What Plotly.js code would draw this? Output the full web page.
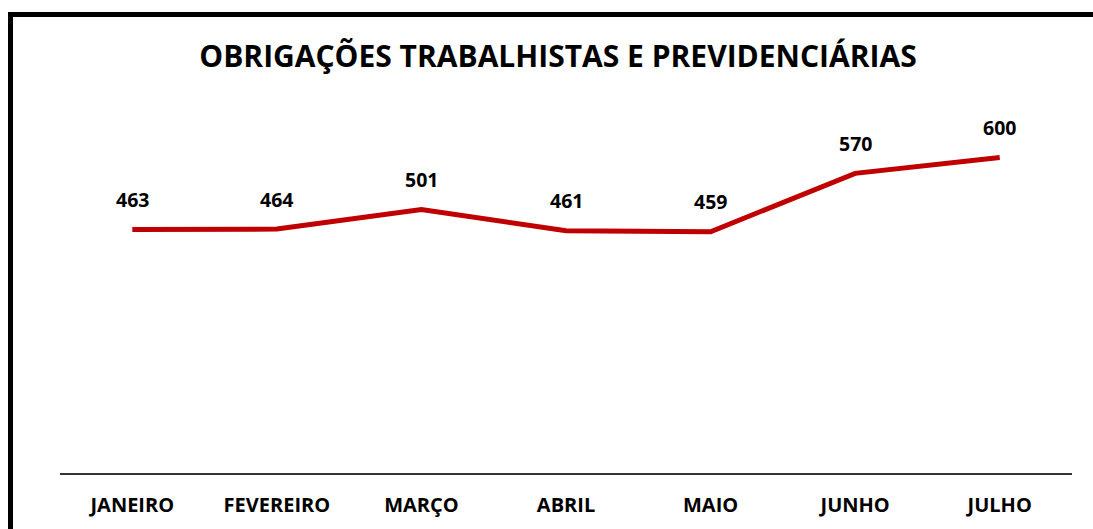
<!DOCTYPE html>
<html><head><meta charset="utf-8">
<script src="https://cdn.plot.ly/plotly-3.0.1.min.js"></script>
<style>html,body{margin:0;padding:0;background:#fff;}#chart{width:1093px;height:529px;}</style>
</head><body><div id="chart"></div>
<script>
const months = ["JANEIRO","FEVEREIRO","MARÇO","ABRIL","MAIO","JUNHO","JULHO"];
const values = [463, 464, 501, 461, 459, 570, 600];
const chartTitle = "OBRIGAÇÕES TRABALHISTAS E PREVIDENCIÁRIAS";

const FONT = "'Open Sans', 'Noto Sans', sans-serif";

const trace = {
  x: months, y: values, type: "scatter", mode: "lines",
  line: {color: "#C00000", width: 5},
  hoverinfo: "x+y"
};

const annotations = months.map((m, i) => ({
  x: m, y: values[i], xref: "x", yref: "y",
  text: "<b>" + values[i] + "</b>", showarrow: false,
  yanchor: "middle", yshift: 30,
  font: {family: FONT, size: 19.5, color: "#000"}
}));

const layout = {
  width: 1093, height: 529,
  margin: {l: 60, r: 21, t: 105, b: 56},
  paper_bgcolor: "#fff", plot_bgcolor: "#fff",
  showlegend: false,
  title: {text: "<b>" + chartTitle + "</b>", x: (558 - 60)/1012, xref: "paper", xanchor: "center",
          y: 1 - 56/529, yanchor: "middle", yref: "container",
          font: {family: FONT, size: 30, color: "#000"}},
  xaxis: {type: "category", showgrid: false, zeroline: false,
          showline: true, linecolor: "#333", linewidth: 1.5,
          ticks: "", ticklabelstandoff: 13,
          tickfont: {family: FONT, size: 20, color: "#000", weight: "bold"},
          range: [-0.5, 6.5], fixedrange: true},
  yaxis: {range: [0, 700], showgrid: false, zeroline: false, showline: false,
          showticklabels: false, ticks: "", fixedrange: true},
  annotations: annotations,
  shapes: [{type: "rect", xref: "paper", yref: "paper",
            x0: (10.5 - 60)/1012, x1: 2, y0: -2, y1: (473 - 14.5)/368,
            line: {color: "#000", width: 5}, fillcolor: "rgba(0,0,0,0)", layer: "above"}]
};

Plotly.newPlot("chart", [trace], layout, {displayModeBar: false, staticPlot: true});
</script></body></html>
